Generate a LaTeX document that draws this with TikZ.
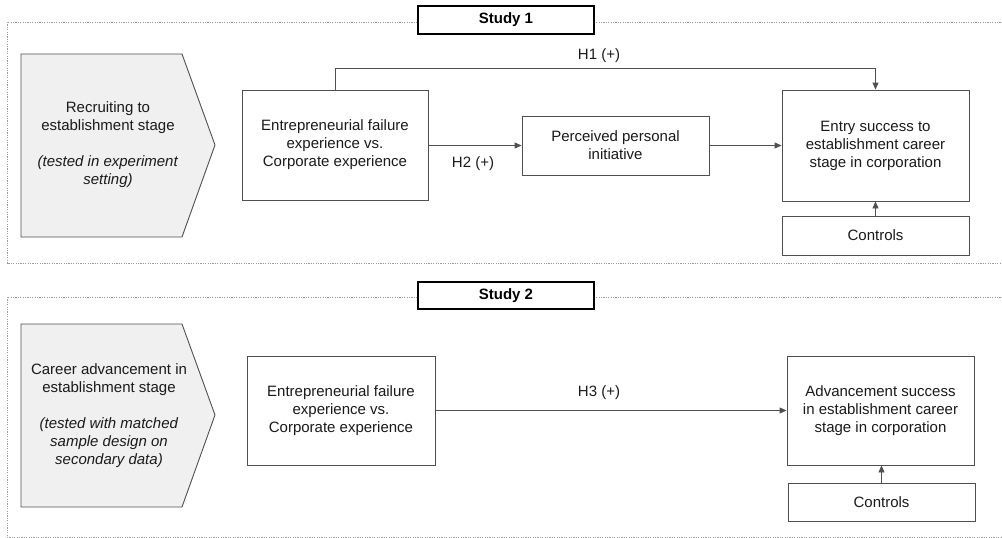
\documentclass[tikz,border=0pt]{standalone}
\usepackage{fontspec}
\setmainfont{Liberation Sans}
\usetikzlibrary{arrows.meta,calc}
\definecolor{lin}{HTML}{505050}
\definecolor{txt}{HTML}{1A1A1A}
\definecolor{chev}{HTML}{F0F0F0}
\tikzset{
  box/.style={draw=lin, line width=0.9pt, fill=white, align=center, text=txt,
    font=\fontsize{15}{18}\selectfont, inner sep=2pt},
  lbl/.style={draw=black, line width=1.3pt, fill=white, font=\bfseries\fontsize{15}{18}\selectfont,
    minimum width=176pt, minimum height=28pt, inner sep=0pt},
  frame/.style={draw=gray!80, line width=0.7pt, dash pattern=on 1.2pt off 1.2pt},
  conn/.style={draw=lin, line width=0.9pt, -{Triangle[length=7pt,width=6pt]}},
  hyp/.style={text=txt, font=\fontsize{15}{18}\selectfont},
  chevtxt/.style={align=center, text=txt, font=\fontsize{15}{18}\selectfont},
}
\begin{document}
\begin{tikzpicture}[x=1pt,y=-1pt]
\useasboundingbox (0,0) rectangle (1002,538);
% frames
\draw[frame] (1003,22) -- (7,22) -- (7,263) -- (1003,263);
\draw[frame] (1003,297) -- (7,297) -- (7,537) -- (1003,537);
\node[lbl] (s1) at (506,20) {Study 1};
\node[lbl, minimum height=27pt] (s2) at (506,295.5) {Study 2};
% chevrons
\draw[lin, line width=0.9pt, fill=chev] (21,54) -- (182,54) -- (215,145) -- (182,237) -- (21,237) -- cycle;
\node[chevtxt] (c1) at (108,145) {Recruiting to\\establishment stage\\[18pt]\textit{(tested in experiment}\\\textit{setting)}};
\draw[lin, line width=0.9pt, fill=chev] (21,324) -- (182,324) -- (215,415) -- (182,507) -- (21,507) -- cycle;
\node[chevtxt] (c2) at (109,415.5) {Career advancement in\\establishment stage\\[18pt]\textit{(tested with matched}\\\textit{sample design on}\\\textit{secondary data)}};
% study 1 boxes
\node[box, minimum width=186pt, minimum height=110pt] (ef1) at (335,145) {Entrepreneurial failure\\experience vs.\\Corporate experience};
\node[box, minimum width=187pt, minimum height=59pt] (ppi) at (615.5,145.5) {Perceived personal\\initiative};
\node[box, minimum width=187pt, minimum height=111pt] (entry) at (875.5,145.5) {Entry success to\\establishment career\\stage in corporation};
\node[box, minimum width=187pt, minimum height=39pt] (ctl1) at (875.5,235.5) {Controls};
% study 2 boxes
\node[box, minimum width=188pt, minimum height=109pt] (ef2) at (341,410.5) {Entrepreneurial failure\\experience vs.\\Corporate experience};
\node[box, minimum width=187pt, minimum height=109pt] (adv) at (880.5,410.5) {Advancement success\\in establishment career\\stage in corporation};
\node[box, minimum width=187pt, minimum height=38pt] (ctl2) at (881.5,502) {Controls};
% connectors
\coordinate (h1a) at (ef1.north);
\draw[conn] (h1a) -- ++(0,-21) -| (entry.north);
\draw[conn] (ef1.east |- ppi.west) -- (ppi.west);
\draw[conn] (ppi.east) -- (entry.west |- ppi.east);
\draw[conn] (ctl1.north) -- (entry.south);
\draw[conn] (ef2.east) -- (adv.west);
\draw[conn] (ctl2.north) -- (ctl2.north |- adv.south);
% labels
\node[hyp] (h1) at (599,56) {H1 (+)};
\node[hyp] (h2) at (473,164) {H2 (+)};
\node[hyp] (h3) at (599,393) {H3 (+)};
\end{tikzpicture}
\end{document}
